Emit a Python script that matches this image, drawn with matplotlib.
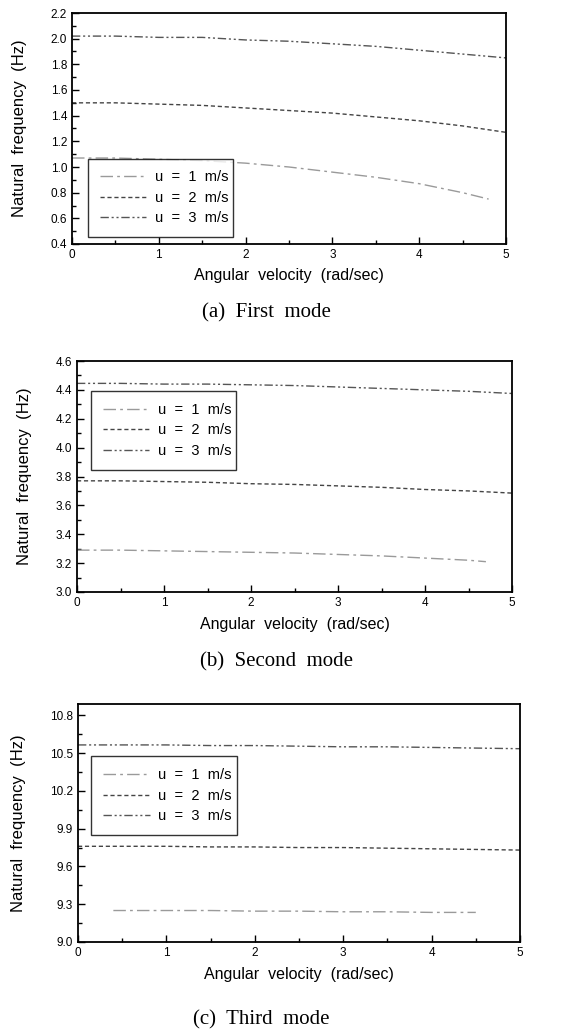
import matplotlib
matplotlib.use("Agg")
import matplotlib.pyplot as plt
from matplotlib.ticker import MultipleLocator

plt.rcParams['font.family'] = ['Liberation Sans', 'DejaVu Sans']

labels = ["u  =  1  m/s", "u  =  2  m/s", "u  =  3  m/s"]

# First mode
a_x1 = [0, 0.5, 1, 1.5, 2, 2.5, 3, 3.5, 4, 4.5, 4.8]
a_u1 = [1.07, 1.07, 1.06, 1.05, 1.03, 1.00, 0.96, 0.92, 0.87, 0.80, 0.75]
a_x = [0, 0.5, 1, 1.5, 2, 2.5, 3, 3.5, 4, 4.5, 5]
a_u2 = [1.50, 1.50, 1.49, 1.48, 1.46, 1.44, 1.42, 1.39, 1.36, 1.32, 1.27]
a_u3 = [2.02, 2.02, 2.01, 2.01, 1.99, 1.98, 1.96, 1.94, 1.91, 1.88, 1.85]

# Second mode
b_x1 = [0, 0.5, 1, 1.5, 2, 2.5, 3, 3.5, 4, 4.5, 4.7]
b_u1 = [3.29, 3.29, 3.285, 3.28, 3.275, 3.27, 3.26, 3.25, 3.235, 3.22, 3.21]
b_x = [0, 0.5, 1, 1.5, 2, 2.5, 3, 3.5, 4, 4.5, 5]
b_u2 = [3.77, 3.77, 3.765, 3.76, 3.75, 3.745, 3.735, 3.725, 3.71, 3.70, 3.685]
b_u3 = [4.445, 4.445, 4.44, 4.44, 4.435, 4.43, 4.42, 4.41, 4.40, 4.39, 4.375]

# Third mode
c_x1 = [0.4, 1, 1.5, 2, 2.5, 3, 3.5, 4, 4.5]
c_u1 = [9.25, 9.25, 9.25, 9.245, 9.245, 9.24, 9.24, 9.235, 9.235]
c_x = [0, 0.5, 1, 1.5, 2, 2.5, 3, 3.5, 4, 4.5, 5]
c_u2 = [9.76, 9.76, 9.76, 9.755, 9.755, 9.75, 9.75, 9.745, 9.74, 9.735, 9.73]
c_u3 = [10.565, 10.565, 10.565, 10.56, 10.56, 10.555, 10.55, 10.55, 10.545, 10.54, 10.535]

panels = [
    dict(x1=a_x1, u1=a_u1, x=a_x, u2=a_u2, u3=a_u3, ylim=(0.4, 2.2), major=0.2, minor=0.1,
         pos=[72/561, 1-244/1030, 434/561, 231/1030], leg=(0.037, 0.03, 0.333, 0.30),
         caption="(a)  First  mode", cap_x=266, cap_y=313, xl_y=276),
    dict(x1=b_x1, u1=b_u1, x=b_x, u2=b_u2, u3=b_u3, ylim=(3.0, 4.6), major=0.2, minor=0.1,
         pos=[77/561, 1-592/1030, 435/561, 231/1030], leg=(0.032, 0.53, 0.333, 0.295),
         caption="(b)  Second  mode", cap_x=276, cap_y=662, xl_y=625),
    dict(x1=c_x1, u1=c_u1, x=c_x, u2=c_u2, u3=c_u3, ylim=(9.0, 10.89), major=0.3, minor=0.15,
         pos=[78/561, 1-942/1030, 442/561, 238/1030], leg=(0.03, 0.45, 0.33, 0.30),
         caption="(c)  Third  mode", cap_x=261, cap_y=1020, xl_y=975),
]

fig = plt.figure(figsize=(5.61, 10.30), dpi=100)
for p in panels:
    ax = fig.add_axes(p['pos'])
    ax.plot(p['x1'], p['u1'], color='#9a9a9a', lw=1.0, dashes=(9, 3, 2, 3), label=labels[0])
    ax.plot(p['x'], p['u2'], color='#444444', lw=1.0, dashes=(3, 2), label=labels[1])
    ax.plot(p['x'], p['u3'], color='#555555', lw=1.0, dashes=(6, 2, 1.5, 2, 1.5, 2), label=labels[2])
    ax.set_xlim(0, 5)
    ax.set_ylim(*p['ylim'])
    ax.xaxis.set_major_locator(MultipleLocator(1))
    ax.xaxis.set_minor_locator(MultipleLocator(0.5))
    ax.yaxis.set_major_locator(MultipleLocator(p['major']))
    ax.yaxis.set_minor_locator(MultipleLocator(p['minor']))
    ax.tick_params(which='both', direction='in', labelsize=8.5, width=1.0)
    ax.tick_params(which='major', length=5)
    ax.tick_params(which='minor', length=3)
    for s in ax.spines.values():
        s.set_linewidth(1.3)
    ticks = [t for t in ax.get_yticks() if p['ylim'][0] - 1e-9 <= t <= p['ylim'][1] + 1e-9]
    ax.set_yticks(ticks)
    ax.set_yticklabels(["{:.1f}".format(v) for v in ticks])
    ax.set_ylim(*p['ylim'])
    ax.set_ylabel("Natural  frequency  (Hz)", fontsize=12, labelpad=17)
    fig.text((p['pos'][0] + p['pos'][2] / 2), 1 - p['xl_y'] / 1030, "Angular  velocity  (rad/sec)",
             ha='center', va='center', fontsize=11.5)
    fig.text(p['cap_x'] / 561, 1 - p['cap_y'] / 1030, p['caption'], ha='center', va='center',
             fontsize=15, family=['Liberation Serif', 'DejaVu Serif'])
    leg = ax.legend(loc='lower left', bbox_to_anchor=p['leg'], mode='expand', fontsize=10.5,
                    frameon=True, fancybox=False, edgecolor='black', handlelength=3.2,
                    borderpad=0.8, labelspacing=0.45, handletextpad=0.6, borderaxespad=0)
    leg.get_frame().set_linewidth(1.0)

fig.savefig("out.png", dpi=100)
